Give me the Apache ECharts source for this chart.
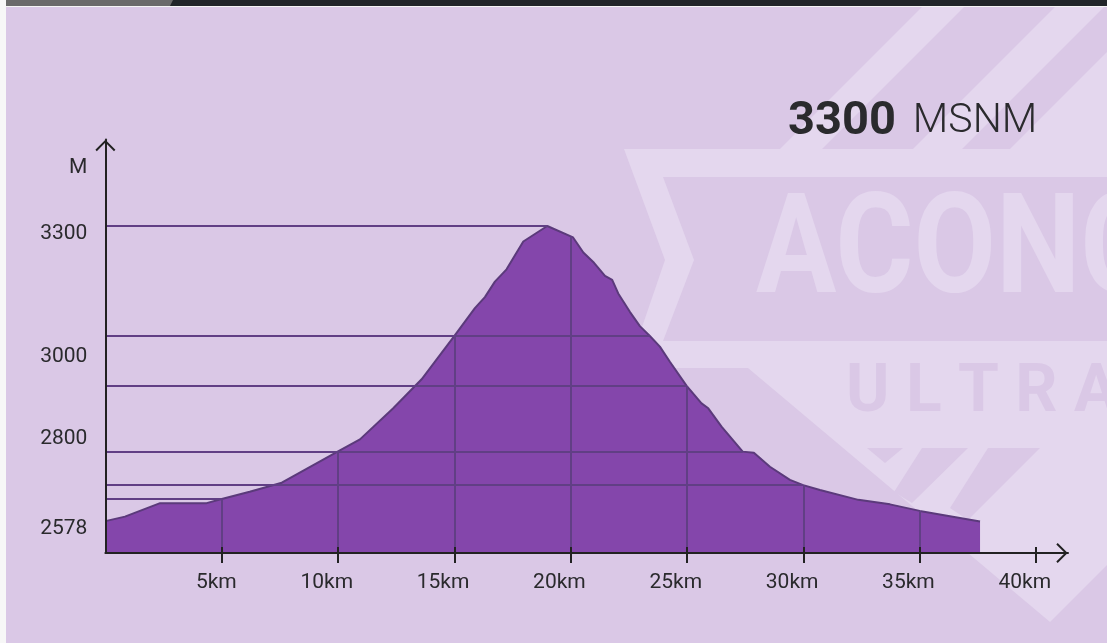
<!DOCTYPE html>
<html><head><meta charset="utf-8">
<script src="https://cdn.jsdelivr.net/npm/echarts@6/dist/echarts.min.js"></script>
<style>html,body{margin:0;padding:0;background:#fff;}#c{width:1107px;height:643px;}</style>
</head><body><div id="c"></div>
<script>
// ---- data ----
const distanceKm = [0, 0.84, 2.35, 4.35, 5.0, 6.2, 7.58, 9.94, 10.94, 12.37, 13.59, 15.0, 15.88, 16.31, 16.74, 17.24, 17.96, 18.99, 20.1, 20.54, 21.0, 21.47, 21.78, 22.04, 22.54, 22.97, 23.4, 23.83, 24.26, 24.98, 25.62, 25.91, 26.48, 27.39, 27.87, 28.56, 29.42, 29.99, 30.71, 32.36, 33.72, 35.0, 37.59];
const elevationM = [2578, 2589, 2622, 2622, 2632, 2650, 2672, 2747, 2778, 2854, 2925, 3031, 3099, 3126, 3164, 3194, 3262, 3300, 3272, 3235, 3210, 3178, 3168, 3135, 3090, 3055, 3031, 3005, 2968, 2909, 2866, 2854, 2809, 2748, 2745, 2711, 2679, 2666, 2654, 2630, 2619, 2603, 2577];
const xTickKm = [5, 10, 15, 20, 25, 30, 35, 40];
const yTickM = [2578, 2800, 3000, 3300];
const guideKm = [5.0, 18.99, 23.4, 24.98, 27.39, 29.99];   // horizontal reference lines end on the profile here
const gridKm = [5, 10, 15, 20, 25, 30, 35];                 // vertical reference lines
const titleValue = '3300';
const titleUnit = 'MSNM';
const axisUnit = 'M';
const watermarkWord = 'ACONCAGUA';
const watermarkSub = 'U L T R A';

function elevAt(k) {
  for (let i = 0; i < distanceKm.length - 1; i++) {
    const a = distanceKm[i], b = distanceKm[i + 1];
    if (k >= a && k <= b) return elevationM[i] + (elevationM[i + 1] - elevationM[i]) * (k - a) / (b - a);
  }
  return elevationM[elevationM.length - 1];
}

const BG = '#dac8e6', LIGHT = '#e4d7ee', INK = '#2a2a2d', AX = '#222';
const arrow = 'path://M0,10 L10,0 L20,10 L18.6,11.4 L10,2.8 L1.4,11.4 Z';
const Y_MIN = 2500, Y_MAX = 3511.6, X_MAX = 41.37;

const guides = guideKm.map(k => { const e = elevAt(k); return [{ coord: [0, e] }, { coord: [k, e] }]; })
  .concat(gridKm.map(k => [{ coord: [k, Y_MIN] }, { coord: [k, elevAt(k)] }]));

const chart = echarts.init(document.getElementById('c'));
chart.setOption({
  backgroundColor: BG,
  animation: false,
  textStyle: { fontFamily: 'Roboto' },
  graphic: [
    // watermark (decorative background logo)
    { type: 'polygon', shape: { points: [[780, 149], [822, 149], [965, 6], [923, 6]] }, style: { fill: LIGHT }, z: -8 },
    { type: 'polygon', shape: { points: [[913, 149], [962, 149], [1105, 6], [1056, 6]] }, style: { fill: LIGHT }, z: -8 },
    { type: 'polygon', shape: { points: [[1010, 149], [1107, 149], [1107, 52]] }, style: { fill: LIGHT }, z: -8 },
    { type: 'polygon', shape: { points: [[624, 149], [1107, 149], [1107, 368], [655, 368], [640, 333], [665, 260]] }, style: { fill: LIGHT }, z: -8 },
    { type: 'polygon', shape: { points: [[663, 177], [1107, 177], [1107, 341], [663, 341], [694, 260]] }, style: { fill: BG }, z: -7 },
    { type: 'polygon', shape: { points: [[748, 368], [1107, 368], [1107, 565], [1050, 622]] }, style: { fill: LIGHT }, z: -8 },
    { type: 'text', x: 756, y: 257, scaleX: 0.86, style: { text: watermarkWord, font: 'bold 139px Roboto', fill: LIGHT, verticalAlign: 'middle' }, z: -6 },
    { type: 'text', x: 846, y: 394, style: { text: watermarkSub, font: 'bold 66px Roboto', fill: BG, verticalAlign: 'middle' }, z: -6 },
    { type: 'polygon', shape: { points: [[867, 448], [903, 448], [885, 463]] }, style: { fill: BG }, z: -6 },
    { type: 'polygon', shape: { points: [[922, 448], [968, 448], [912, 503], [894, 492]] }, style: { fill: BG }, z: -6 },
    { type: 'polygon', shape: { points: [[988, 448], [1040, 448], [968, 520], [950, 508]] }, style: { fill: BG }, z: -6 },
    // top strip
    { type: 'rect', shape: { x: 0, y: 0, width: 1107, height: 6 }, style: { fill: '#212529' }, z: 1 },
    { type: 'polygon', shape: { points: [[6, 0], [173, 0], [170, 6], [6, 6]] }, style: { fill: '#6a6a6a' }, z: 1 },
    { type: 'rect', shape: { x: 0, y: 6, width: 1107, height: 1 }, style: { fill: '#f4f4f4' }, z: 1 },
    { type: 'rect', shape: { x: 0, y: 0, width: 6, height: 643 }, style: { fill: '#f7f7f7' }, z: 1 }
  ],
  title: {
    text: '{b|' + titleValue + '}{l|' + titleUnit + '}',
    left: 783, top: 92,
    textStyle: {
      rich: {
        b: { fontFamily: 'Roboto', fontWeight: 'bold', fontSize: 47, color: INK, lineHeight: 50 },
        l: { fontFamily: 'Roboto', fontWeight: 300, fontSize: 41, color: INK, lineHeight: 50, padding: [0, 0, 0, 17] }
      }
    }
  },
  grid: { left: 105.4, right: 39, top: 139.5, bottom: 90 },
  xAxis: [{
    type: 'value', min: 0, max: X_MAX, z: 10,
    axisLine: { show: true, lineStyle: { color: AX, width: 2 }, symbol: ['none', arrow], symbolSize: [20, 11.4], symbolOffset: [0, -6] },
    axisTick: { show: true, customValues: xTickKm, length: 10, lineStyle: { color: AX, width: 2 } },
    axisLabel: { customValues: xTickKm, formatter: v => v + 'km', margin: 19, fontSize: 21, color: INK, align: 'right', padding: [0, -15, 0, 0] },
    splitLine: { show: false }
  }, {
    type: 'value', min: 0, max: X_MAX, position: 'bottom', z: 10,
    axisLine: { show: false },
    axisTick: { show: true, inside: true, customValues: xTickKm, length: 6, lineStyle: { color: AX, width: 2 } },
    axisLabel: { show: false }, splitLine: { show: false }
  }],
  yAxis: {
    type: 'value', min: Y_MIN, max: Y_MAX, z: 10,
    name: axisUnit, nameLocation: 'end', nameGap: -28,
    nameTextStyle: { fontSize: 21, color: INK, align: 'right', verticalAlign: 'middle', padding: [0, 18, 0, 0] },
    axisLine: { show: true, lineStyle: { color: AX, width: 2 }, symbol: ['none', arrow], symbolSize: [20, 11.4], symbolOffset: [0, -6] },
    axisTick: { show: false },
    axisLabel: { customValues: yTickM, formatter: v => String(v), margin: 18, fontSize: 21, color: INK, verticalAlign: 'top', lineHeight: 16 },
    splitLine: { show: false }
  },
  series: [{
    type: 'line',
    data: distanceKm.map((k, i) => [k, elevationM[i]]),
    symbol: 'none',
    lineStyle: { color: '#5b3a7b', width: 2 },
    areaStyle: { color: '#8446ab', opacity: 1 },
    silent: true,
    markLine: {
      silent: true, symbol: ['none', 'none'],
      label: { show: false },
      lineStyle: { color: '#613f85', width: 2, type: 'solid' },
      emphasis: { disabled: true },
      data: guides
    }
  }]
});
</script></body></html>
